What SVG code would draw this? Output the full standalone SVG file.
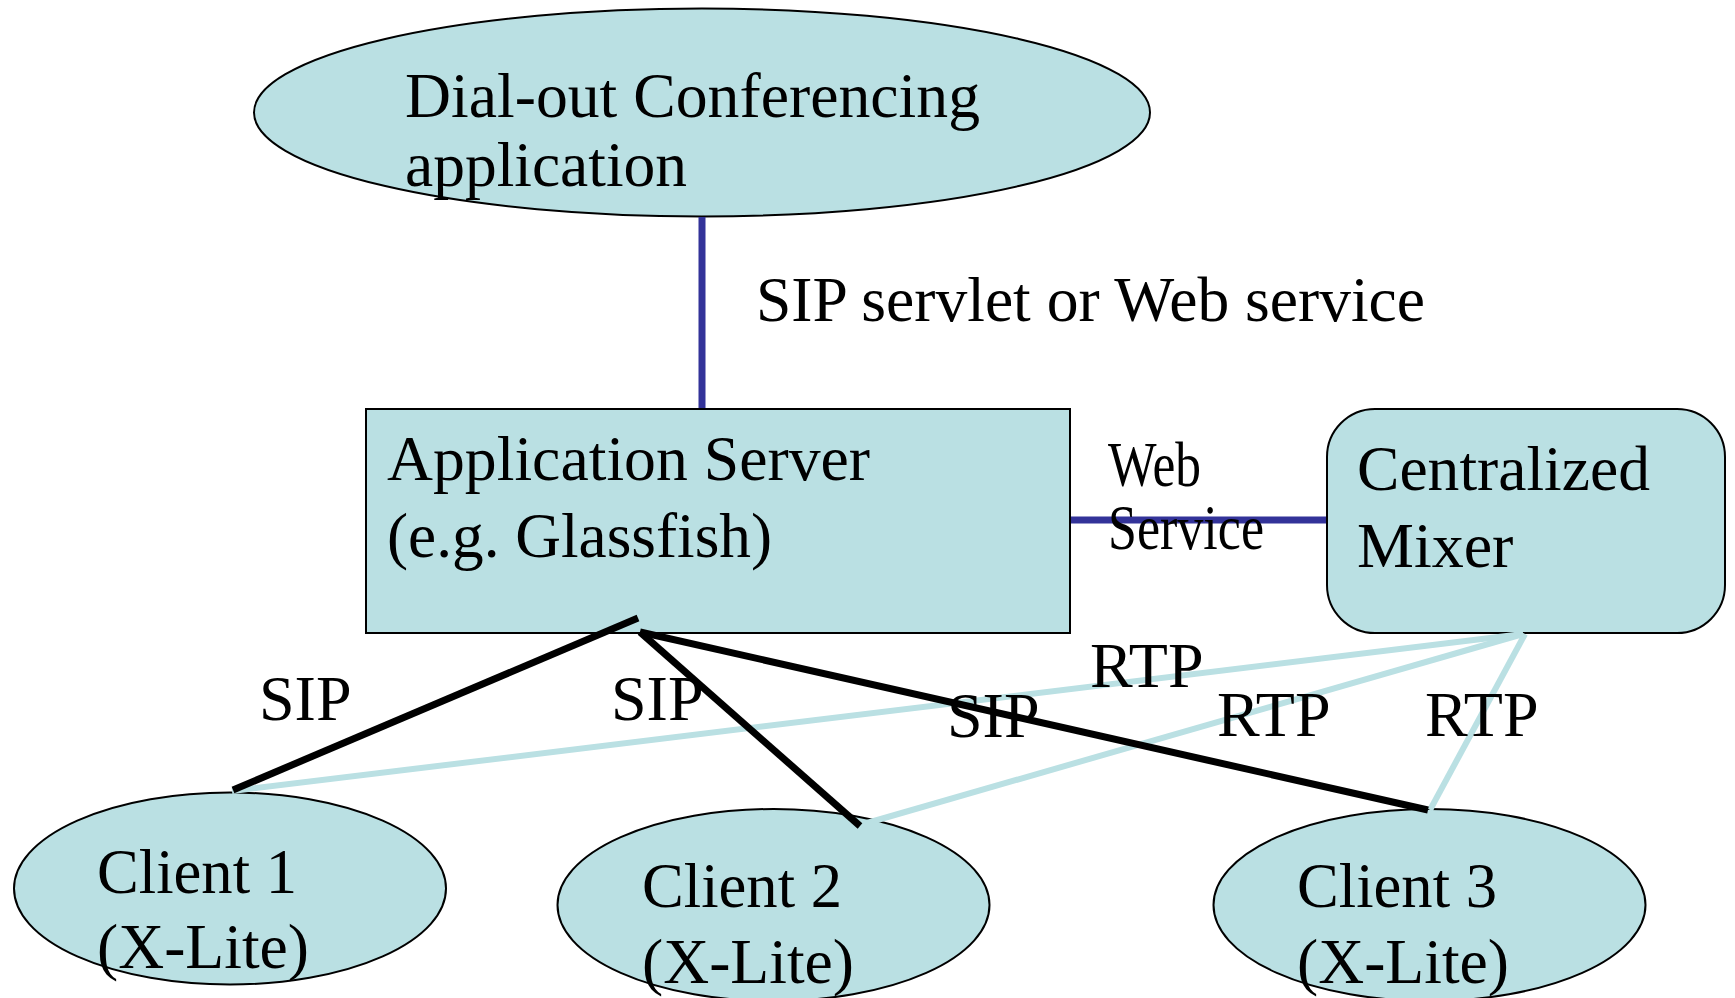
<svg xmlns="http://www.w3.org/2000/svg" width="1735" height="998" viewBox="0 0 1735 998">
<style>
.node{fill:#BAE0E3;stroke:#000;stroke-width:2}
.t{font-family:"Liberation Serif","Times New Roman",serif;fill:#000;font-size:64px}
.blue{stroke:#333399;stroke-width:7;fill:none}
.rtp{stroke:#BAE0E3;fill:none;stroke-width:6}
.sip{stroke:#000;fill:none;stroke-width:7}
</style>
<rect width="1735" height="998" fill="#fff"/>
<g id="dialout">
<ellipse class="node" cx="702" cy="112.5" rx="448" ry="104"/>
<text class="t" x="405" y="117" font-size="73" textLength="575" lengthAdjust="spacingAndGlyphs">Dial-out Conferencing</text>
<text class="t" x="405" y="186" font-size="73" textLength="282" lengthAdjust="spacingAndGlyphs">application</text>
</g>
<g id="appserver">
<rect class="node" x="366" y="409" width="704" height="224"/>
<text class="t" x="387" y="480" textLength="483" lengthAdjust="spacingAndGlyphs">Application Server</text>
<text class="t" x="387" y="557" textLength="385" lengthAdjust="spacingAndGlyphs">(e.g. Glassfish)</text>
</g>
<g id="mixer">
<rect class="node" x="1327" y="409" width="398" height="224" rx="48" ry="48"/>
<text class="t" x="1357" y="490" textLength="293" lengthAdjust="spacingAndGlyphs">Centralized</text>
<text class="t" x="1357" y="567">Mixer</text>
</g>
<g id="client1">
<ellipse class="node" cx="230" cy="888.5" rx="216" ry="96"/>
<text class="t" x="97" y="893" textLength="200" lengthAdjust="spacingAndGlyphs">Client 1</text>
<text class="t" x="97" y="968" textLength="212" lengthAdjust="spacingAndGlyphs">(X-Lite)</text>
</g>
<g id="client2">
<ellipse class="node" cx="773.5" cy="905" rx="216" ry="96"/>
<text class="t" x="642" y="907" textLength="200" lengthAdjust="spacingAndGlyphs">Client 2</text>
<text class="t" x="642" y="983" textLength="212" lengthAdjust="spacingAndGlyphs">(X-Lite)</text>
</g>
<g id="client3">
<ellipse class="node" cx="1429.5" cy="905" rx="216" ry="96"/>
<text class="t" x="1297" y="907" textLength="200" lengthAdjust="spacingAndGlyphs">Client 3</text>
<text class="t" x="1297" y="983" textLength="212" lengthAdjust="spacingAndGlyphs">(X-Lite)</text>
</g>
<g id="connectors">
<line class="blue" x1="702" y1="217" x2="702" y2="408"/>
<line class="blue" x1="1071" y1="520" x2="1326" y2="520"/>
<line class="rtp" x1="1523" y1="634" x2="232" y2="791"/>
<line class="rtp" x1="1523" y1="634" x2="867" y2="823"/>
<line class="rtp" x1="1525" y1="634" x2="1430" y2="810"/>
<line class="sip" x1="638" y1="618" x2="233" y2="790"/>
<line class="sip" x1="640" y1="632" x2="860" y2="826"/>
<line class="sip" x1="640" y1="632" x2="1428" y2="810"/>
</g>
<g id="labels">
<text class="t" x="756" y="321" font-size="66" textLength="669" lengthAdjust="spacingAndGlyphs">SIP servlet or Web service</text>
<text class="t" x="1108" y="486" font-size="53" textLength="93" lengthAdjust="spacingAndGlyphs">Web</text>
<text class="t" x="1108" y="549" font-size="53" textLength="156" lengthAdjust="spacingAndGlyphs">Service</text>
<text class="t" x="259" y="720">SIP</text>
<text class="t" x="611" y="720">SIP</text>
<text class="t" x="947" y="737">SIP</text>
<text class="t" x="1090" y="687">RTP</text>
<text class="t" x="1217" y="736">RTP</text>
<text class="t" x="1425" y="736">RTP</text>
</g>
</svg>
